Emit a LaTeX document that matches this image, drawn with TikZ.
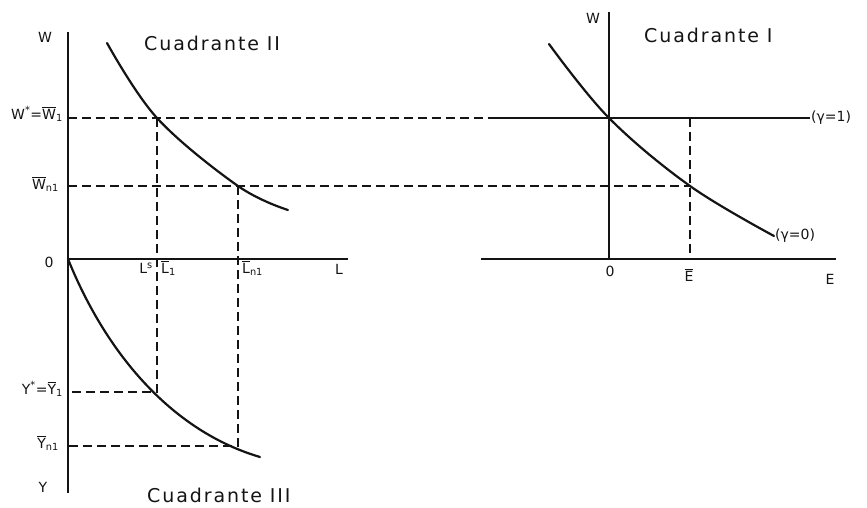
\documentclass[tikz,border=0pt]{standalone}
\usepackage{fontspec}
\setmainfont{DejaVu Sans}
\newfontfamily\handfont[LetterSpace=10]{DejaVu Sans}
\usetikzlibrary{positioning}
\definecolor{ink}{HTML}{141414}
\newcommand{\ov}[1]{$\overline{\mbox{#1}}$}
\tikzset{
  ax/.style={draw=ink,line width=1.3pt},
  crv/.style={draw=ink,line width=2.2pt,line cap=round},
  gd/.style={draw=ink,line width=1.2pt,dash pattern=on 9pt off 5pt},
  lbl/.style={font=\fontsize{14}{16}\selectfont,inner sep=1pt,text=ink},
  quad/.style={font=\handfont\fontsize{19}{23}\selectfont,inner sep=1pt,text=ink,anchor=west},
}

\begin{document}
\begin{tikzpicture}[x=1pt,y=-1pt]
\useasboundingbox (0,0) rectangle (867,508);
% left panel (quadrants II and III)
\coordinate (o) at (68,259);
\coordinate (wtop) at (68,32);
\coordinate (ybot) at (68,493);
\coordinate (lend) at (348,259);
\coordinate (w1) at (68,118);
\coordinate (wn) at (68,186);
\coordinate (y1) at (68,392);
\coordinate (yn) at (68,446);
\coordinate (a1) at (157,118);
\coordinate (an) at (238,186);
\coordinate (b1) at (157,392);
\coordinate (bn) at (238,446);
\coordinate (c0) at (107,43);
\coordinate (c3) at (288,210);
\coordinate (d3) at (260,457);
% right panel (quadrant I)
\coordinate (o1) at (609,259);
\coordinate (etop) at (609,12);
\coordinate (eleft) at (481,259);
\coordinate (eend) at (836,259);
\coordinate (p1) at (609,118);
\coordinate (pn) at (690,186);
\coordinate (pt) at (690,118);
\coordinate (pe) at (690,259);
\coordinate (p0) at (549,44);
\coordinate (p3) at (774,236);
\coordinate (hs) at (497,118);
\coordinate (he) at (810,118);

\draw[ax] (wtop) -- (ybot);
\draw[ax] (o) -- (lend);
\draw[ax] (etop) -- (o1);
\draw[ax] (eleft) -- (eend);

\draw[gd] (w1) -- (hs);
\draw[ax] (hs) -- (he);
\draw[gd] (wn) -- (pn);
\draw[gd] (a1) -- (b1) -- (y1);
\draw[gd] (an) -- (bn) -- (yn);
\draw[gd] (pt) -- (pe);

\draw[crv] plot[smooth,tension=0.6] coordinates {(c0) (a1) (an) (c3)};
\draw[crv] (o) .. controls (108,358) and (175,432) .. (d3);
\draw[crv] plot[smooth,tension=0.6] coordinates {(p0) (p1) (pn) (p3)};

% labels
\node[lbl] (wl) at (45,37) {W};
\node[quad] (q2) at (143,43) {Cuadrante II};
\node[lbl,anchor=east] (w1l) at (64,114) {W\textsuperscript{*}=\ov{W}\textsubscript{1}};
\node[lbl,anchor=east] (wnl) at (60,184) {\ov{W}\textsubscript{n1}};
\node[lbl] (ol) at (49,262) {0};
\node[lbl,anchor=east] (lsl) at (154,268) {L\textsuperscript{s}};
\node[lbl,anchor=west] (l1l) at (160,268) {\ov{L}\textsubscript{1}};
\node[lbl,anchor=west] (lnl) at (241,268) {\ov{L}\textsubscript{n1}};
\node[lbl] (ll) at (339,269) {L};
\node[lbl,anchor=east] (y1l) at (64,389) {Y\textsuperscript{*}=\ov{Y}\textsubscript{1}};
\node[lbl,anchor=east] (ynl) at (60,443) {\ov{Y}\textsubscript{n1}};
\node[lbl] (yl) at (43,487) {Y};
\node[quad] (q3) at (146,495) {Cuadrante III};
\node[lbl] (wr) at (593,18) {W};
\node[quad] (q1) at (643,35) {Cuadrante I};
\node[lbl,anchor=west] (g1) at (he) {(γ=1)};
\node[lbl,anchor=west] (g0) at (p3) {(γ=0)};
\node[lbl] (or) at (610,271) {0};
\node[lbl] (el) at (689,275) {\ov{E}};
\node[lbl] (ee) at (830,279) {E};
\end{tikzpicture}
\end{document}
